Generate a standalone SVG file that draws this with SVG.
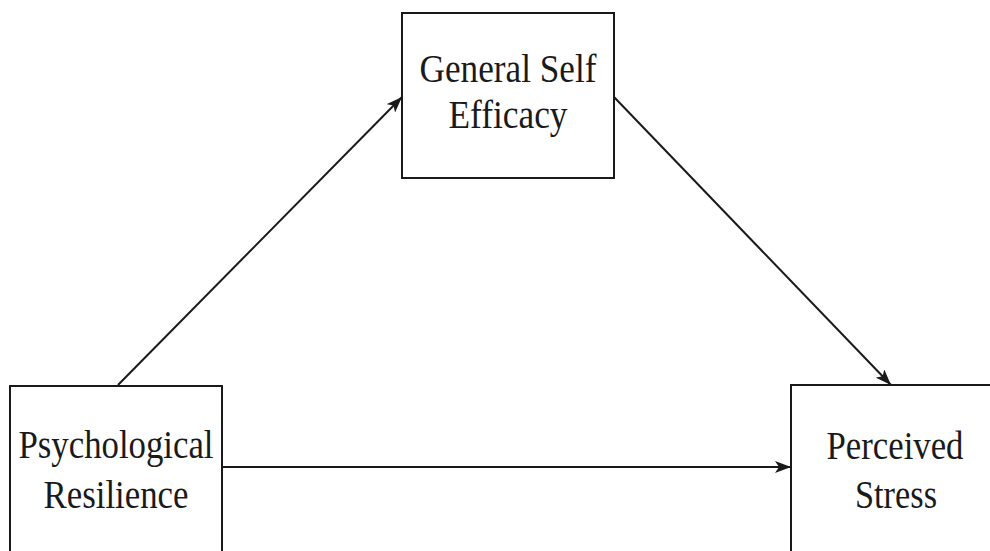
<svg xmlns="http://www.w3.org/2000/svg" width="990" height="551" viewBox="0 0 990 551">
<style>
.box{fill:#fff;stroke:#1a1a1a;stroke-width:2}
.lbl{font-family:"Liberation Serif","Times New Roman",serif;font-size:39px;fill:#1a1a1a;text-anchor:middle}
.edge{stroke:#1a1a1a;stroke-width:2;fill:none;marker-end:url(#arr)}
</style>
<defs>
<marker id="arr" viewBox="0 0 16 12" refX="16" refY="6" markerWidth="16" markerHeight="12" markerUnits="userSpaceOnUse" orient="auto">
<path d="M0,0 L16,6 L0,12 L4,6 Z" fill="#1a1a1a"/>
</marker>
</defs>
<rect width="990" height="551" fill="#fff"/>
<g id="connectors">
<path d="M118,385 L402,97" class="edge"/>
<path d="M614,97 L891,385" class="edge"/>
<path d="M222,467 L791,467" class="edge"/>
</g>
<g id="gse">
<rect class="box" x="402" y="13" width="212" height="165"/>
<text class="lbl" x="508" y="82" textLength="177" lengthAdjust="spacingAndGlyphs">General Self</text>
<text class="lbl" x="508" y="128" textLength="119" lengthAdjust="spacingAndGlyphs">Efficacy</text>
</g>
<g id="pr">
<rect class="box" x="10" y="386" width="212" height="175"/>
<text class="lbl" x="116" y="458" textLength="195" lengthAdjust="spacingAndGlyphs">Psychological</text>
<text class="lbl" x="116" y="508" textLength="145" lengthAdjust="spacingAndGlyphs">Resilience</text>
</g>
<g id="ps">
<rect class="box" x="791" y="385" width="210" height="176"/>
<text class="lbl" x="895" y="459" textLength="137" lengthAdjust="spacingAndGlyphs">Perceived</text>
<text class="lbl" x="896" y="508" textLength="82" lengthAdjust="spacingAndGlyphs">Stress</text>
</g>
</svg>
